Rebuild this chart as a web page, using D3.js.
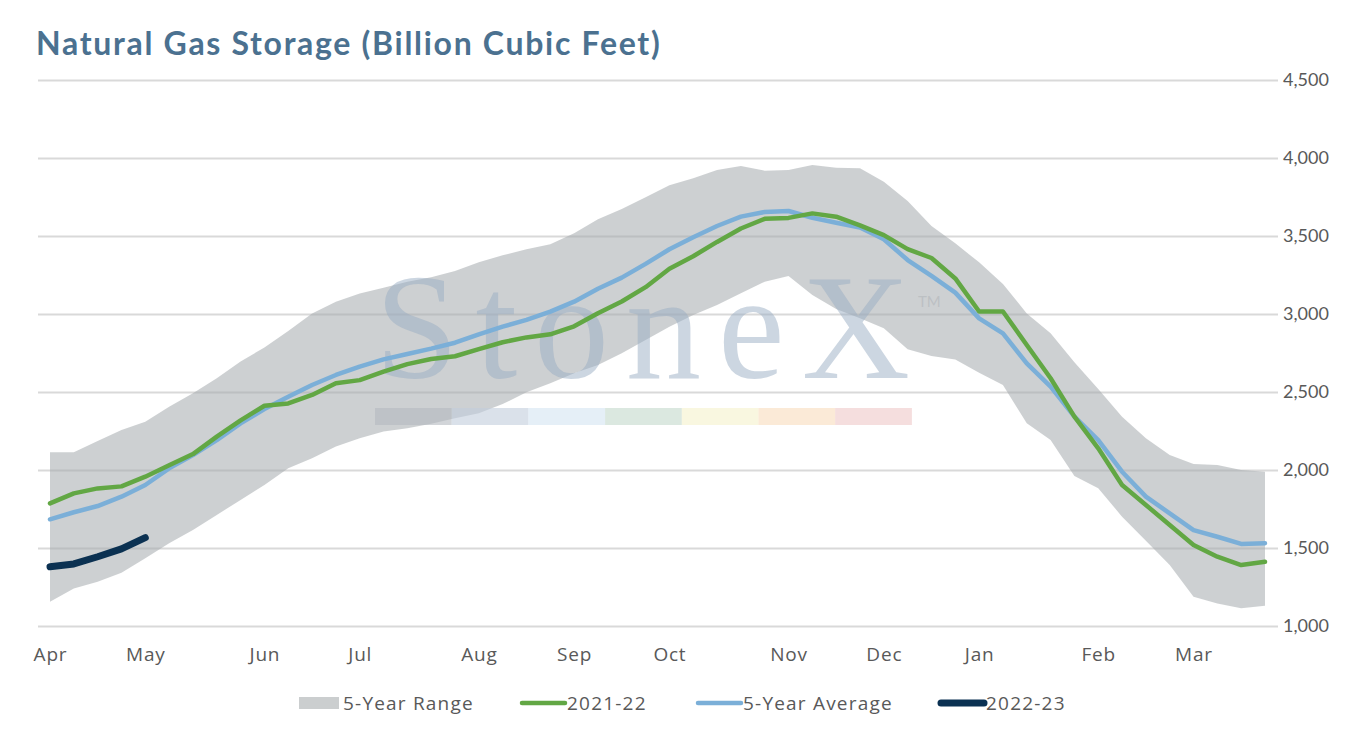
<!DOCTYPE html>
<html>
<head>
<meta charset="utf-8">
<script src="https://cdn.jsdelivr.net/npm/d3@7"></script>
<style>
  body { margin: 0; background: #fff; }
  svg { display: block; font-family: Lato, "Open Sans", sans-serif; }
</style>
</head>
<body>
<svg></svg>
<script>
var w = 1355, h = 729

// weekly storage, Bcf (week 0 = first week of April)
var monthLabels = ["Apr", "May", "Jun", "Jul", "Aug", "Sep", "Oct", "Nov", "Dec", "Jan", "Feb", "Mar"]
var monthWeeks = [0, 4, 9, 13, 18, 22, 26, 31, 35, 39, 44, 48]
var yTicks = [1000, 1500, 2000, 2500, 3000, 3500, 4000, 4500]

var rangeHigh = [2113, 2113, 2186, 2256, 2310, 2406, 2492, 2588, 2695, 2786, 2891, 3004, 3079, 3132, 3169, 3207, 3235,
    3276, 3331, 3376, 3415, 3447, 3517, 3607, 3673, 3748, 3825, 3870, 3923, 3949, 3919, 3923, 3955, 3938, 3934,
    3848, 3724, 3564, 3453, 3331, 3192, 3004, 2876, 2690, 2519, 2342, 2203, 2096, 2038, 2032, 2000, 1989]
var rangeLow = [1156, 1241, 1284, 1342, 1434, 1530, 1615, 1712, 1808, 1904, 2011, 2075, 2150, 2203, 2246, 2267, 2297,
    2331, 2363, 2423, 2498, 2556, 2620, 2673, 2748, 2833, 2919, 2994, 3058, 3133, 3207, 3244, 3122, 3032, 2972,
    2908, 2774, 2731, 2709, 2624, 2545, 2299, 2192, 1962, 1883, 1701, 1547, 1391, 1188, 1145, 1113, 1130]
var avg5 = [1684, 1729, 1769, 1829, 1904, 2011, 2096, 2192, 2299, 2391, 2470, 2545, 2609, 2663, 2709, 2744, 2778,
    2816, 2870, 2919, 2962, 3015, 3079, 3162, 3233, 3321, 3415, 3492, 3564, 3624, 3654, 3660, 3617, 3585,
    3555, 3479, 3346, 3244, 3137, 2972, 2876, 2683, 2534, 2342, 2192, 1989, 1829, 1722, 1615, 1572, 1526, 1530]
var s2122 = [1786, 1850, 1882, 1895, 1957, 2030, 2102, 2214, 2318, 2412, 2427, 2481, 2556, 2576, 2630, 2679, 2712,
    2729, 2775, 2819, 2850, 2870, 2921, 3005, 3080, 3172, 3290, 3370, 3462, 3548, 3610, 3616, 3645, 3624,
    3568, 3506, 3416, 3359, 3228, 3016, 3016, 2801, 2588, 2342, 2139, 1904, 1776, 1647, 1519, 1444, 1391, 1412]
var s2223 = [1380, 1398, 1444, 1494, 1566]

var weeks = d3.range(rangeHigh.length)

var svg = d3.select("svg")
    .attr("width", w)
    .attr("height", h)

var x = d3.scalePoint()
    .domain(weeks)
    .range([50, 1265])
var y = d3.scaleLinear()
    .domain([1000, 4500])
    .range([626, 80])

svg.append("text")
    .attr("x", 36)
    .attr("y", 55)
    .attr("fill", "#4b7190")
    .attr("font-size", 32)
    .attr("font-weight", 700)
    .attr("letter-spacing", 1.7)
    .text("Natural Gas Storage (Billion Cubic Feet)")

// gridlines
svg.append("g")
    .attr("transform", "translate(1278,0)")
    .call(d3.axisLeft(y).tickValues(yTicks).tickSize(1240).tickFormat(""))
    .call(g => g.select(".domain").remove())
    .selectAll("line")
        .attr("stroke", "#d9d9d9")
        .attr("stroke-width", 2)

// y labels on the right
svg.append("g")
    .attr("transform", "translate(1283,0)")
    .call(d3.axisRight(y).tickValues(yTicks).tickSize(0).tickPadding(0).tickFormat(d3.format(",")))
    .call(g => g.select(".domain").remove())
    .selectAll("text")
        .attr("fill", "#595959")
        .attr("font-size", 18)
        .attr("font-family", "Lato, sans-serif")

// month labels
svg.append("g")
    .attr("transform", "translate(0,647)")
    .call(d3.axisBottom(x).tickValues(monthWeeks).tickSize(0).tickPadding(0)
        .tickFormat(d => monthLabels[monthWeeks.indexOf(d)]))
    .call(g => g.select(".domain").remove())
    .selectAll("text")
        .attr("fill", "#595959")
        .attr("font-size", 19)
        .attr("letter-spacing", 0.8)
        .attr("font-family", "'Open Sans', sans-serif")

var area = d3.area()
    .x(d => x(d))
    .y0(d => y(rangeLow[d]))
    .y1(d => y(rangeHigh[d]))

svg.append("path")
    .datum(weeks)
    .attr("d", area)
    .attr("fill", "#a4aaad")
    .attr("fill-opacity", 0.55)

// watermark
var wm = svg.append("g").attr("class", "watermark")
wm.append("text")
    .attr("x", 375)
    .attr("y", 378)
    .attr("textLength", 535)
    .attr("lengthAdjust", "spacing")
    .attr("font-family", "Liberation Serif, serif")
    .attr("font-size", 150)
    .attr("fill", "#9aadc3")
    .attr("fill-opacity", 0.5)
    .text("StoneX")
wm.append("text")
    .attr("x", 918)
    .attr("y", 307)
    .attr("font-size", 15)
    .attr("fill", "#b5b9bd")
    .attr("fill-opacity", 0.7)
    .text("TM")
var stripeColors = ["#b4b9bf", "#c2cddc", "#d3e4f2", "#c3d9cc", "#f5f1cc", "#f8dcbc", "#efc8c8"]
wm.selectAll("rect")
    .data(stripeColors)
    .join("rect")
        .attr("x", (d, i) => 375 + i * 76.7)
        .attr("y", 408)
        .attr("width", 76.7)
        .attr("height", 17)
        .attr("fill", d => d)
        .attr("fill-opacity", 0.6)

var line = function(vals) {
    return d3.line()
        .x((d, i) => x(i))
        .y(d => y(d))(vals)
}

svg.append("path")
    .attr("d", line(avg5))
    .attr("fill", "none")
    .attr("stroke", "#7bafd8")
    .attr("stroke-width", 4.5)
    .attr("stroke-linejoin", "round")
    .attr("stroke-linecap", "round")

svg.append("path")
    .attr("d", line(s2122))
    .attr("fill", "none")
    .attr("stroke", "#62a744")
    .attr("stroke-width", 4.5)
    .attr("stroke-linejoin", "round")
    .attr("stroke-linecap", "round")

svg.append("path")
    .attr("d", line(s2223))
    .attr("fill", "none")
    .attr("stroke", "#0b3152")
    .attr("stroke-width", 7)
    .attr("stroke-linejoin", "round")
    .attr("stroke-linecap", "round")

// legend
var legend = svg.append("g")
    .attr("font-size", 19)
    .attr("letter-spacing", 1.2)
    .attr("font-family", "'Open Sans', sans-serif")
    .attr("fill", "#595959")
legend.append("rect")
    .attr("x", 299).attr("y", 697)
    .attr("width", 40).attr("height", 12)
    .attr("fill", "#cbcecf")
legend.append("text").attr("x", 343).attr("y", 710).text("5-Year Range")

var legendLines = [
    { x1: 522, x2: 565, tx: 567, color: "#62a744", sw: 4.5, label: "2021-22" },
    { x1: 698, x2: 741, tx: 743, color: "#7bafd8", sw: 4.5, label: "5-Year Average" },
    { x1: 941, x2: 984, tx: 986, color: "#0b3152", sw: 7, label: "2022-23" }
]
legendLines.forEach(function(l) {
    legend.append("line")
        .attr("x1", l.x1).attr("x2", l.x2)
        .attr("y1", 703).attr("y2", 703)
        .attr("stroke", l.color)
        .attr("stroke-width", l.sw)
        .attr("stroke-linecap", "round")
    legend.append("text").attr("x", l.tx).attr("y", 710).text(l.label)
})
</script>
</body>
</html>
